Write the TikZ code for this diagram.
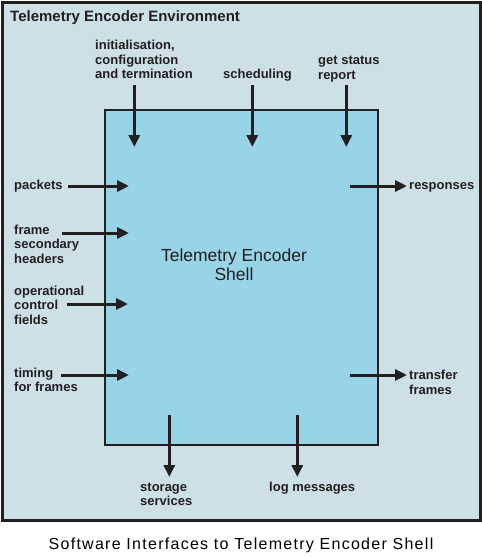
\documentclass[tikz,border=0pt]{standalone}
\usepackage{fontspec}
\setmainfont{Liberation Sans}
\usetikzlibrary{arrows.meta}
\definecolor{envfill}{RGB}{204,224,230}
\definecolor{shellfill}{RGB}{153,211,230}
\definecolor{ink}{RGB}{35,31,32}
\tikzset{
  lbl/.style={font=\bfseries\fontsize{13}{14.5}\selectfont, text=ink, inner sep=0pt, align=left, anchor=base west},
  flow/.style={draw=ink, line width=3pt, -{Triangle[length=12pt,width=11pt]}},
}
\begin{document}
\begin{tikzpicture}[x=1pt,y=-1pt]
\useasboundingbox (0,0) rectangle (482,557);
% environment
\node[draw=ink, line width=2.5pt, fill=envfill, inner sep=0pt, minimum width=478pt, minimum height=518pt, anchor=north west] (env) at (1.25,1.25) {};
\node[font=\bfseries\fontsize{15}{17}\selectfont, text=ink, inner sep=0pt, anchor=base west] (title) at (10,21) {Telemetry Encoder Environment};
% shell
\node[draw=ink, line width=2pt, fill=shellfill, inner sep=0pt, minimum width=273pt, minimum height=335pt, anchor=north west] (shell) at (104,108.5) {};
\node[font=\fontsize{17.5}{19}\selectfont, text=ink, inner sep=0pt, align=center, anchor=base] (shelltxt) at (234,280) {Telemetry Encoder\\Shell};
% labels (anchor = baseline of last line)
\node[lbl] (init) at (95,78.5) {initialisation,\\configuration\\and termination};
\node[lbl] (sched) at (223,78.5) {scheduling};
\node[lbl] (status) at (318,79) {get status\\report};
\node[lbl] (packets) at (14,189.5) {packets};
\node[lbl] (fsh) at (14,263) {frame\\secondary\\headers};
\node[lbl] (ocf) at (14,324) {operational\\control\\fields};
\node[lbl] (timing) at (14,391.5) {timing\\for frames};
\node[lbl] (resp) at (409,189) {responses};
\node[lbl] (tf) at (409,394) {transfer\\frames};
\node[lbl] (stor) at (140,505.5) {storage\\services};
\node[lbl] (log) at (269,491) {log messages};
% connector ends
\coordinate (a1) at (134.3,85); \coordinate (b1) at (134.3,147);
\coordinate (a2) at (252.3,85); \coordinate (b2) at (252.3,147);
\coordinate (a3) at (346.3,85); \coordinate (b3) at (346.3,147);
\coordinate (a4) at (68,186);  \coordinate (b4) at (129,186);
\coordinate (a5) at (62,233);  \coordinate (b5) at (129,233);
\coordinate (a6) at (67,304);  \coordinate (b6) at (128,304);
\coordinate (a7) at (61,375);  \coordinate (b7) at (129,375);
\coordinate (a8) at (350,186); \coordinate (b8) at (407,186);
\coordinate (a9) at (350,375); \coordinate (b9) at (407,375);
\coordinate (a10) at (169.3,415); \coordinate (b10) at (169.3,477);
\coordinate (a11) at (297.3,415); \coordinate (b11) at (297.3,477);
\foreach \i in {1,...,11} { \draw[flow] (a\i) -- (b\i); }
% caption
\node[font=\fontsize{16}{18}\selectfont\addfontfeatures{LetterSpace=8}, text=black, inner sep=0pt, anchor=base] (caption) at (241,549) {Software Interfaces to Telemetry Encoder Shell};
\end{tikzpicture}
\end{document}
